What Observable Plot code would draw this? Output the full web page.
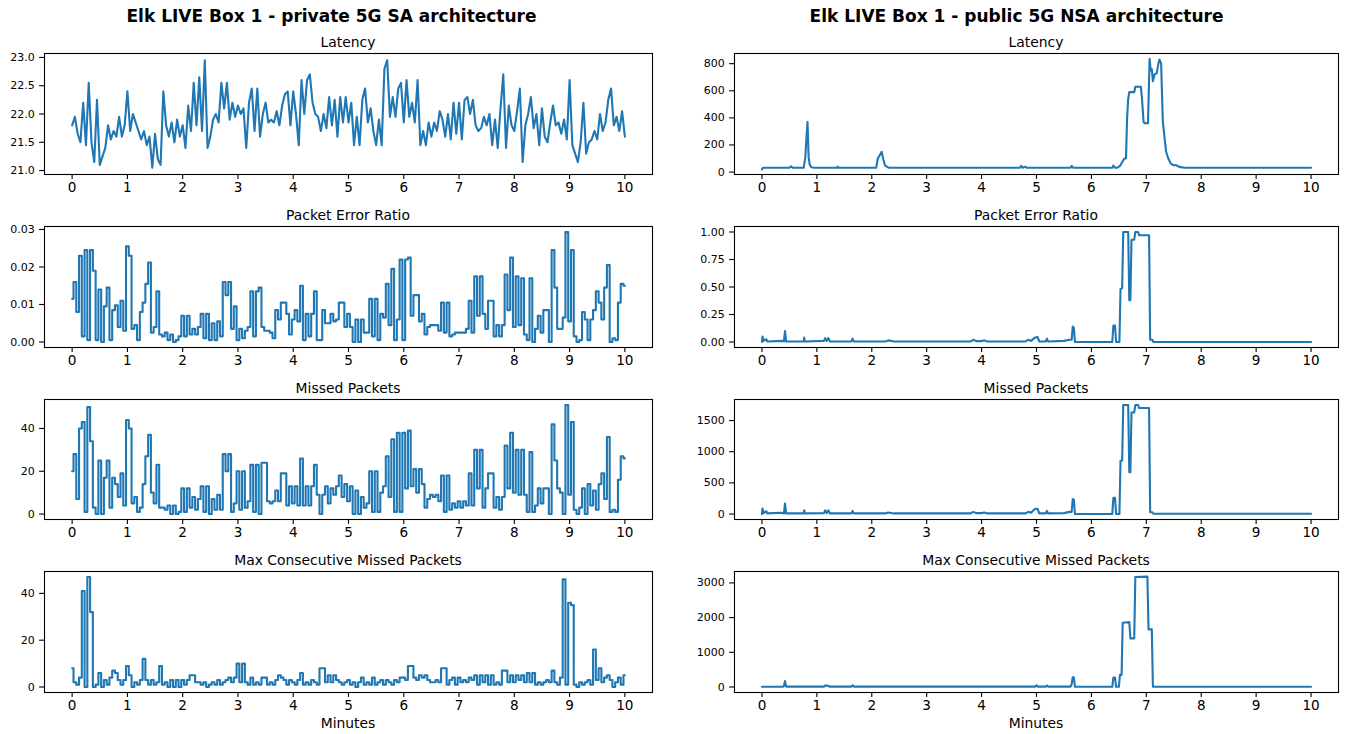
<!DOCTYPE html>
<html><head><meta charset="utf-8">
<script src="https://cdn.jsdelivr.net/npm/d3@7"></script>
<script src="https://cdn.jsdelivr.net/npm/@observablehq/plot@0.6"></script>
<style>
html,body{margin:0;padding:0;background:#fff;}
#root{position:relative;width:1347px;height:734px;font-family:"DejaVu Sans",sans-serif;color:#000;overflow:hidden;}
.t{position:absolute;white-space:nowrap;transform:translateX(-50%);line-height:1;}
.sup{font-weight:bold;font-size:17px;}
.sub{font-size:13.9px;}
</style></head><body><div id="root"></div>
<script>
// ---------- tick labels / titles ----------
const xTicks = [0,1,2,3,4,5,6,7,8,9,10];
const supTitles = ["Elk LIVE Box 1 - private 5G SA architecture", "Elk LIVE Box 1 - public 5G NSA architecture"];
const panelTitles = ["Latency", "Packet Error Ratio", "Missed Packets", "Max Consecutive Missed Packets"];
const xLabel = "Minutes";

// ---------- private 5G SA (one sample every 0.05 minute, 0..10) ----------
const privStep = 0.05;
const privLatency = [
21.80,21.95,21.65,21.50,22.20,21.45,22.55,21.50,21.15,22.25,21.10,21.25,21.40,21.80,21.55,21.70,21.60,21.95,21.60,21.80,
22.40,21.70,22.00,21.85,21.70,21.55,21.70,21.45,21.60,21.05,21.65,21.20,21.10,22.40,21.80,21.60,21.85,21.50,21.90,21.60,
21.80,21.40,22.15,21.70,22.55,21.80,22.65,21.70,22.95,21.40,21.60,21.90,22.00,21.85,22.55,22.10,22.55,21.90,22.20,21.95,
22.15,22.00,22.10,21.40,22.20,22.45,21.70,22.45,21.60,22.00,22.20,21.85,21.90,21.85,22.05,21.80,22.15,22.35,22.40,21.80,
22.40,22.00,21.45,22.60,22.00,22.60,22.70,22.20,22.00,21.95,21.70,22.00,21.75,22.30,21.80,22.25,21.60,22.30,21.85,22.30,
21.85,22.20,21.45,21.95,21.45,22.25,22.45,21.85,22.10,21.70,21.45,21.90,21.45,22.80,22.95,21.95,22.30,21.95,22.45,22.55,
21.85,22.60,21.95,22.20,21.85,22.60,21.45,21.70,21.45,21.85,21.60,21.85,21.70,22.05,21.90,21.60,22.00,21.55,22.20,21.65,
22.20,21.55,22.25,22.30,22.00,22.25,21.80,21.70,21.75,21.95,21.80,22.00,21.45,21.90,21.40,22.10,22.70,21.40,22.15,21.80,
21.70,22.05,22.45,21.15,21.80,22.00,22.30,21.75,22.00,21.45,22.10,21.60,21.50,21.85,22.15,21.80,21.85,21.65,21.90,21.55,
22.60,21.45,21.30,21.15,21.50,22.20,21.30,21.50,21.55,21.70,21.55,22.00,21.70,21.85,22.25,22.45,21.80,21.95,21.70,22.05,
21.60];
const privPER = [
0.0115,0.016,0.008,0.023,0.0015,0.0245,0.0005,0.0245,0.019,0.0005,0.014,0,0.0095,0.0145,0.0005,0.0085,0.0098,0.004,0.011,0.003,
0.0255,0.023,0.0035,0.0045,0.0005,0.008,0.0105,0.0155,0.0212,0.0025,0.004,0.0135,0.002,0.0015,0.0025,0.0005,0.002,0,0.0005,0.0015,
0.007,0.0015,0.007,0.002,0.0035,0.002,0.004,0.0075,0.001,0.0075,0.0005,0.005,0.0005,0.0055,0.0015,0.016,0.0125,0.016,0.0035,0.0095,
0.0005,0.0035,0.001,0.003,0.004,0.0135,0.0015,0.0135,0.0145,0.004,0.003,0.003,0.0025,0.001,0.0085,0.006,0.0105,0.0105,0.0075,0.002,
0.006,0.0085,0.0055,0.015,0.0005,0.0075,0.0015,0.0075,0.0135,0.0005,0.0005,0.0085,0.005,0.005,0.0075,0.0055,0.006,0.0105,0.0105,0.004,
0.0075,0.004,0,0.006,0,0.006,0.0025,0.0025,0.0115,0.0015,0.0115,0.0005,0.0075,0.0065,0.0155,0.0045,0.0195,0.0005,0.006,0.022,
0.0005,0.022,0.0225,0.007,0.0125,0.0125,0.0055,0.0075,0.002,0.004,0.0045,0.0045,0.0045,0.003,0.0105,0.0025,0.0105,0.0015,0.002,0.0025,
0.0025,0.0025,0.0025,0.0035,0.011,0.0025,0.0175,0.007,0.0175,0.0075,0.0035,0.011,0.011,0.0015,0.0045,0.0015,0.0045,0.018,0.0085,0.0225,
0.004,0.0175,0.0045,0.017,0.002,0.0005,0.017,0,0.0035,0.007,0.0025,0.0085,0.0085,0,0.0245,0.0145,0.0035,0.0035,0.0065,0.0293,
0.0055,0.0245,0.0015,0,0.0005,0.008,0.006,0.0005,0.006,0.0085,0.0135,0.0105,0.006,0.0145,0.0205,0,0.001,0.0005,0.0105,0.0155,
0.015];
const privMissed = [
20,28,7,40,43,1,50,34,3,0,25,0,17,25,3,17,14,8,19,4,
44,40,5,8,1,3,14,27,37,10,5,23,3,3,2,4,0,4,0,1,
12,1,12,3,8,2,7,13,1,13,0,7,2,9,2,28,20,28,1,5,
20,2,20,3,6,23,1,23,0,24,24,6,5,6,11,6,19,19,4,13,
5,13,4,26,4,13,4,13,23,9,0,9,13,5,12,9,13,18,8,14,
6,13,0,11,0,8,3,5,20,1,20,1,10,13,27,8,35,1,38,1,
38,12,39,13,21,10,21,14,3,7,9,8,9,6,18,1,18,2,5,3,
6,3,6,4,19,4,30,12,30,3,12,19,19,3,8,2,8,32,12,38,
10,30,9,30,9,1,29,1,4,12,5,12,12,0,42,25,12,10,0,51,
9,43,2,0,3,12,0,14,4,11,2,14,19,7,36,1,2,1,16,27,
26];
const privMaxConsec = [
8,2,1,4,41,0,47,32,0,1,6,0,3,1,4,7,6,3,1,3,
9,5,0,2,1,3,12,3,1,3,1,2,9,1,2,0,3,0,3,0,
3,1,3,5,5,2,2,1,2,0,1,2,1,3,1,2,3,4,2,4,
10,2,10,2,1,4,1,2,1,4,4,1,2,1,3,5,4,3,1,3,
2,1,3,6,1,2,1,3,2,1,8,8,2,5,2,5,3,2,1,2,
3,1,2,0,2,4,1,2,1,4,1,2,3,1,3,2,1,3,2,4,
4,3,9,9,4,3,5,4,5,3,2,2,3,2,8,8,1,3,4,1,
4,2,3,2,4,3,5,1,5,2,5,1,5,1,2,1,7,7,2,5,
2,5,3,5,2,6,2,6,1,2,1,2,3,2,7,2,1,4,46,1,
36,35,1,0,2,1,2,3,1,16,3,8,2,4,5,3,0,2,4,1,
5];

// ---------- public 5G NSA (minute, value) ----------
const pubLatencyT = [0,0.02,0.5,0.53,0.56,0.76,0.79,0.81,0.83,0.85,0.87,0.9,0.95,1.37,1.38,1.4,2.08,2.11,2.14,2.18,2.21,2.24,2.28,2.32,4.7,4.72,4.75,4.8,4.82,5.62,5.64,5.67,6.38,6.4,6.43,6.47,6.52,6.57,6.6,6.63,6.65,6.67,6.69,6.78,6.8,6.9,6.92,6.95,6.97,7.03,7.06,7.08,7.1,7.12,7.15,7.19,7.22,7.24,7.27,7.3,7.33,7.36,7.4,7.45,7.5,7.55,7.6,7.7,10];
const pubLatencyV = [20,32,32,42,32,32,110,250,370,110,55,35,32,32,40,32,32,100,120,150,95,50,38,32,32,45,32,40,32,32,45,32,32,48,32,32,45,80,100,100,400,540,590,590,630,630,550,370,360,360,835,750,760,670,720,730,800,830,800,380,260,150,100,60,50,50,38,32,32];
const pubPERT = [0,0.01,0.03,0.08,0.1,0.35,0.4,0.42,0.44,0.76,0.77,0.78,1.13,1.15,1.18,1.21,1.24,1.63,1.65,1.67,2.25,2.3,2.4,3.8,3.85,3.9,4.0,4.05,4.1,4.8,4.85,4.9,4.97,5.02,5.05,5.17,5.19,5.21,5.5,5.6,5.64,5.66,5.68,5.7,6.38,6.4,6.43,6.45,6.51,6.53,6.56,6.58,6.67,6.69,6.71,6.73,6.78,6.8,6.85,6.87,7.05,7.07,7.11,7.13,10];
const pubPERV = [0,0.05,0.01,0.025,0.005,0.01,0.005,0.1,0.005,0.005,0.04,0.005,0.01,0.035,0.01,0.035,0.005,0.005,0.03,0.005,0.005,0.015,0.005,0.005,0.02,0.008,0.008,0.015,0.005,0.005,0.02,0.01,0.04,0.045,0.005,0.005,0.03,0.005,0.01,0.02,0.02,0.14,0.13,0,0,0.15,0.15,0,0,0.48,0.49,1.0,1.0,0.38,0.38,0.93,0.93,1.0,1.0,0.97,0.97,0.02,0.02,0,0];
const pubMissedT = [0,0.01,0.03,0.08,0.1,0.35,0.4,0.42,0.44,0.76,0.77,0.78,1.13,1.15,1.18,1.21,1.24,1.63,1.65,1.67,2.25,2.3,2.4,3.8,3.85,3.9,4.0,4.05,4.1,4.8,4.85,4.9,4.97,5.02,5.05,5.17,5.19,5.21,5.5,5.6,5.64,5.66,5.68,5.7,6.38,6.4,6.43,6.45,6.51,6.53,6.56,6.58,6.67,6.69,6.71,6.73,6.78,6.8,6.85,6.87,7.05,7.07,7.11,7.13,10];
const pubMissedV = [0,90,15,45,10,20,10,170,10,10,60,10,15,60,15,60,10,10,50,10,10,25,10,10,35,15,15,25,10,10,35,20,80,85,10,10,50,10,15,35,35,240,230,0,0,260,260,0,0,850,860,1750,1750,670,670,1630,1630,1750,1750,1700,1700,30,30,5,5];
const pubMaxConsecT = [0,0.38,0.4,0.42,0.44,1.13,1.15,1.2,1.23,1.63,1.65,1.68,4.98,5.0,5.03,5.17,5.19,5.21,5.62,5.64,5.66,5.68,5.7,6.38,6.4,6.43,6.45,6.5,6.52,6.55,6.57,6.69,6.71,6.78,6.8,7.02,7.04,7.1,7.12,10];
const pubMaxConsecV = [5,5,30,170,10,10,40,40,10,10,50,10,10,50,10,10,45,10,10,80,280,280,5,5,270,270,5,5,350,350,1850,1870,1400,1400,3170,3180,1660,1660,5,5];

// ---------- axis tick values ----------
const yTicksPriv = [[21.0,21.5,22.0,22.5,23.0],[0,0.01,0.02,0.03],[0,20,40],[0,20,40]];
const yTicksPub = [[0,200,400,600,800],[0,0.25,0.5,0.75,1.0],[0,500,1000,1500],[0,1000,2000,3000]];
const yFmtPriv = [".1f", ".2f", "d", "d"];
const yFmtPub = ["d", ".2f", "d", "d"];

// ---------- layout ----------
const root = document.getElementById("root");
const rowTop = [53, 226, 399, 571];
const rowH = [121, 121, 120, 121];
const font = "'DejaVu Sans', sans-serif";

function addText(cls, text, cx, top) {
  const d = document.createElement("div");
  d.className = "t " + cls;
  d.textContent = text;
  d.style.left = cx + "px";
  d.style.top = top + "px";
  root.appendChild(d);
}

function panel(left, width, mL, mR, row, t, v, yDomain, yTicks, fmt, curve) {
  const mT = 3, mB = 30;
  const data = t.map((x, i) => ({x, y: v[i]}));
  const svg = Plot.plot({
    width, height: mT + rowH[row] + mB,
    marginLeft: mL, marginRight: mR, marginTop: mT, marginBottom: mB,
    style: {background: "transparent", fontFamily: font, color: "#000", overflow: "visible"},
    x: {domain: [-0.5, 10.5]},
    y: {domain: yDomain},
    marks: [
      Plot.line(data, {x: "x", y: "y", stroke: "#1f77b4", strokeWidth: 2.1, strokeLinejoin: "round", curve}),
      Plot.frame({stroke: "#000", strokeWidth: 1.1}),
      Plot.axisX({ticks: xTicks, tickSize: 4.9, tickPadding: 3, fontSize: 13.6, strokeWidth: 1.1, label: null, tickFormat: d => String(d)}),
      Plot.axisY({ticks: yTicks, tickSize: 4.9, tickPadding: 4.9, fontSize: 11, strokeWidth: 1.1, label: null, tickFormat: d3.format(fmt)})
    ]
  });
  svg.querySelectorAll('g[aria-label="x-axis tick label"] text').forEach(n => n.style.fontSize = "13.6px");
  svg.querySelectorAll('g[aria-label="y-axis tick label"] text').forEach(n => n.style.fontSize = "11px");
  svg.style.position = "absolute";
  svg.style.left = left + "px";
  svg.style.top = (rowTop[row] - mT) + "px";
  root.appendChild(svg);
}

const privT = privLatency.map((_, i) => +(i * privStep).toFixed(2));
const privSeries = [privLatency, privPER, privMissed, privMaxConsec];
const privCurves = ["linear", "step", "step", "step"];
const privDomains = [[20.93, 23.07], [-0.00147, 0.0308], [-2.55, 53.55], [-2.35, 49.35]];
const pubSeries = [[pubLatencyT, pubLatencyV], [pubPERT, pubPERV], [pubMissedT, pubMissedV], [pubMaxConsecT, pubMaxConsecV]];
const pubDomains = [[-18, 875], [-0.05, 1.05], [-87.5, 1837.5], [-159, 3329]];

for (let r = 0; r < 4; r++) {
  panel(0, 670, 44, 18, r, privT, privSeries[r], privDomains[r], yTicksPriv[r], yFmtPriv[r], privCurves[r]);
  panel(690, 657, 44, 9, r, pubSeries[r][0], pubSeries[r][1], pubDomains[r], yTicksPub[r], yFmtPub[r], "linear");
}

addText("sup", supTitles[0], 331.5, 8);
addText("sup", supTitles[1], 1016.5, 8);
const titleTops = [36, 209, 381.5, 554];
for (let r = 0; r < 4; r++) {
  addText("sub", panelTitles[r], 348, titleTops[r]);
  addText("sub", panelTitles[r], 1036, titleTops[r]);
}
addText("sub", xLabel, 348, 717);
addText("sub", xLabel, 1036, 717);
</script>
</body></html>
